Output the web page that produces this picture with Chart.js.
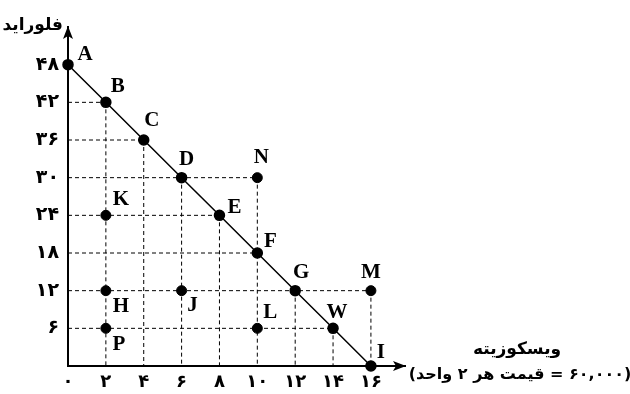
<!DOCTYPE html>
<html>
<head>
<meta charset="utf-8">
<script src="https://cdn.jsdelivr.net/npm/chart.js@4"></script>
<style>
  html, body { margin: 0; padding: 0; background: #fff; }
</style>
</head>
<body>
<canvas id="grafico" width="630" height="394"></canvas>
<script>
// points on the line A..I
const lineNames = ['A', 'B', 'C', 'D', 'E', 'F', 'G', 'W', 'I'];
const lineX = [0, 2, 4, 6, 8, 10, 12, 14, 16];
const lineY = [48, 42, 36, 30, 24, 18, 12, 6, 0];

// other points
const otherNames = ['N', 'K', 'H', 'J', 'L', 'P', 'M'];
const otherX = [10, 2, 2, 6, 10, 2, 16];
const otherY = [30, 24, 12, 12, 6, 6, 12];

const xTicks = [0, 2, 4, 6, 8, 10, 12, 14, 16];
const xTickLabels = ['۰', '۲', '۴', '۶', '۸', '۱۰', '۱۲', '۱۴', '۱۶'];
const yTicks = [6, 12, 18, 24, 30, 36, 42, 48];
const yTickLabels = ['۶', '۱۲', '۱۸', '۲۴', '۳۰', '۳۶', '۴۲', '۴۸'];

const yTitle = 'فلوراید';
const xTitle = 'ویسکوزیته';
const xNote = '(۶۰,۰۰۰ = قیمت هر ۲ واحد)';

// where each letter sits relative to its dot (px)
const labelOffset = {
  A: [17, -10], B: [12, -16], C: [8, -19], D: [5, -18], E: [15, -8],
  F: [13, -11], G: [6, -18], W: [4, -16], I: [10, -13],
  N: [4, -20], K: [15, -16], H: [15, 16], J: [11, 15], L: [13, -16],
  P: [13, 16], M: [0, -18]
};

const allX = lineX.concat(otherX);
const allY = lineY.concat(otherY);

// dashed guides: one horizontal per level up to the farthest point, one vertical per x
const guides = [];
[...new Set(allY)].forEach(function(y) {
  if (y === 0) return;
  let far = 0;
  allX.forEach(function(x, i) { if (allY[i] === y && x > far) far = x; });
  if (far === 0) return;
  guides.push({ x: 0, y: y }, { x: far, y: y }, { x: far, y: null });
});
[...new Set(allX)].forEach(function(x) {
  if (x === 0) return;
  let top = 0;
  allY.forEach(function(y, i) { if (allX[i] === x && y > top) top = y; });
  if (top === 0) return;
  guides.push({ x: x, y: top }, { x: x, y: 0 }, { x: x, y: null });
});

const extras = {
  id: 'extras',
  afterDraw(chart) {
    const ctx = chart.ctx;
    const xs = chart.scales.x, ys = chart.scales.y;
    const area = chart.chartArea;
    ctx.save();
    ctx.fillStyle = '#000';

    // arrow heads
    const ox = area.left, oy = area.bottom;
    ctx.beginPath();
    ctx.moveTo(ox, area.top - 1);
    ctx.lineTo(ox - 5, area.top + 12);
    ctx.lineTo(ox, area.top + 9);
    ctx.lineTo(ox + 5, area.top + 12);
    ctx.closePath();
    ctx.fill();
    ctx.beginPath();
    ctx.moveTo(area.right + 1, oy);
    ctx.lineTo(area.right - 12, oy - 5);
    ctx.lineTo(area.right - 9, oy);
    ctx.lineTo(area.right - 12, oy + 5);
    ctx.closePath();
    ctx.fill();

    // point letters
    ctx.font = 'bold 21px "Liberation Serif"';
    ctx.textAlign = 'center';
    ctx.textBaseline = 'middle';
    const names = lineNames.concat(otherNames);
    names.forEach(function(n, i) {
      const off = labelOffset[n];
      ctx.fillText(n, xs.getPixelForValue(allX[i]) + off[0], ys.getPixelForValue(allY[i]) + off[1]);
    });

    // axis titles (right-to-left)
    ctx.direction = 'rtl';
    ctx.font = 'bold 17px "DejaVu Sans"';
    ctx.textAlign = 'right';
    ctx.fillText(yTitle, ox - 5, area.top - 1);
    ctx.textAlign = 'center';
    ctx.fillText(xTitle, 517, 350);
    ctx.font = 'bold 16px "DejaVu Sans"';
    ctx.fillText(xNote, 520, 375);
    ctx.restore();
  }
};

new Chart(document.getElementById('grafico'), {
  type: 'scatter',
  data: {
    datasets: [{
      type: 'line',
      data: lineX.map((x, i) => ({ x: x, y: lineY[i] })),
      borderColor: '#000',
      borderWidth: 1.5,
      pointRadius: 5,
      pointBackgroundColor: '#000',
      pointBorderColor: '#000',
      tension: 0,
      clip: false
    }, {
      data: otherX.map((x, i) => ({ x: x, y: otherY[i] })),
      pointRadius: 5,
      pointBackgroundColor: '#000',
      pointBorderColor: '#000',
      clip: false
    }, {
      type: 'line',
      data: guides,
      borderColor: '#000',
      borderWidth: 1,
      borderDash: [4, 3],
      pointRadius: 0,
      spanGaps: false
    }]
  },
  options: {
    responsive: false,
    animation: false,
    devicePixelRatio: 1,
    layout: { padding: { top: 27, right: 225, left: 0, bottom: 0 } },
    plugins: { legend: { display: false }, tooltip: { enabled: false } },
    scales: {
      x: {
        type: 'linear', min: 0, max: 17.8,
        afterBuildTicks: s => { s.ticks = xTicks.map(v => ({ value: v })); },
        afterFit: s => { s.height = 28; },
        grid: { display: false, drawTicks: false },
        border: { display: true, color: '#000', width: 2 },
        ticks: {
          color: '#000', font: { family: 'DejaVu Sans', weight: 'bold', size: 18 }, padding: 6,
          maxRotation: 0, autoSkip: false,
          callback: v => xTickLabels[xTicks.indexOf(v)]
        }
      },
      y: {
        type: 'linear', min: 0, max: 54,
        afterBuildTicks: s => { s.ticks = yTicks.map(v => ({ value: v })); },
        afterFit: s => { s.width = 68; },
        grid: { display: false, drawTicks: false },
        border: { display: true, color: '#000', width: 2 },
        ticks: {
          color: '#000', font: { family: 'DejaVu Sans', weight: 'bold', size: 19 }, padding: 9,
          autoSkip: false,
          callback: v => yTickLabels[yTicks.indexOf(v)]
        }
      }
    }
  },
  plugins: [extras]
});
</script>
</body>
</html>
